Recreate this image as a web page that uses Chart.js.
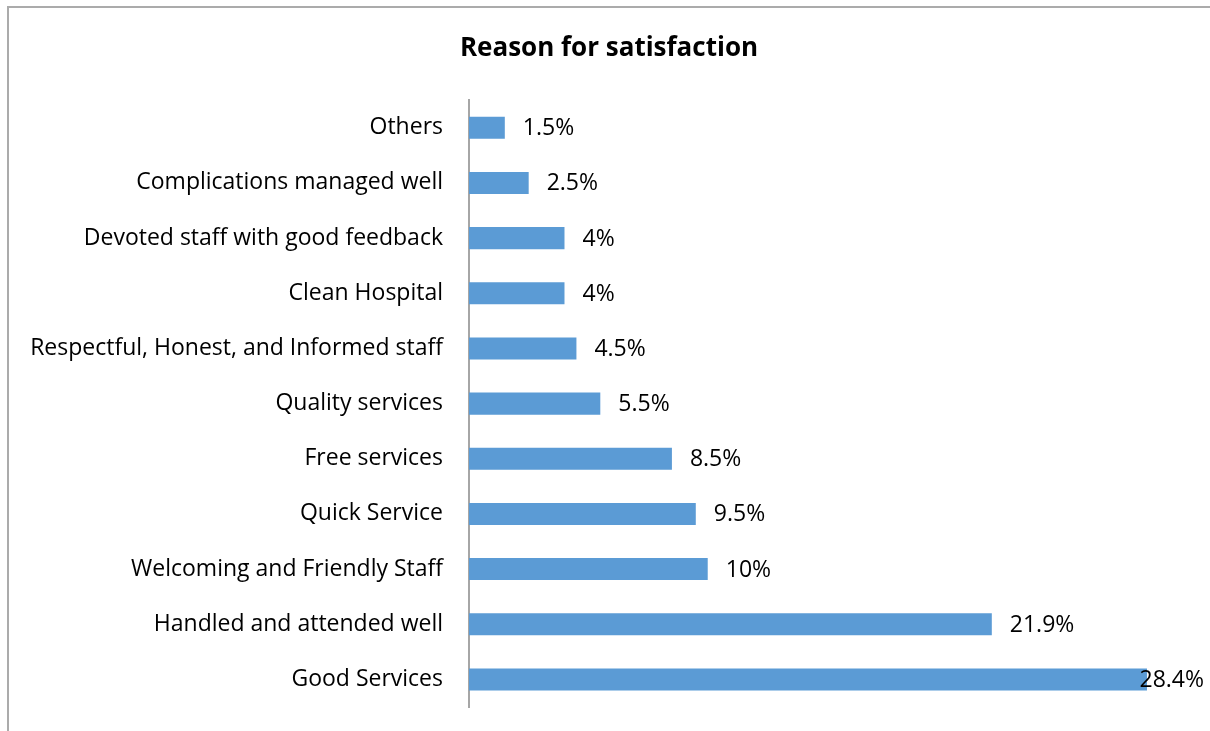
<!DOCTYPE html>
<html>
<head>
<meta charset="utf-8">
<script src="https://cdn.jsdelivr.net/npm/chart.js@4"></script>
<style>
  body { margin: 0; background: #fff; }
  #wrap { position: relative; width: 1210px; height: 731px; }
  #frame { position: absolute; left: 7px; top: 6px; right: 0; bottom: 0;
           border-top: 2px solid #ababab; border-left: 2px solid #ababab; }
  canvas { position: absolute; left: 0; top: 0; }
</style>
</head>
<body>
<div id="wrap">
  <div id="frame"></div>
  <canvas id="chart" width="1210" height="731"></canvas>
</div>
<script>
const categories = [
    'Others',
    'Complications managed well',
    'Devoted staff with good feedback',
    'Clean Hospital',
    'Respectful, Honest, and Informed staff',
    'Quality services',
    'Free services',
    'Quick Service',
    'Welcoming and Friendly Staff',
    'Handled and attended well',
    'Good Services'
];
const values = [1.5, 2.5, 4, 4, 4.5, 5.5, 8.5, 9.5, 10, 21.9, 28.4];
const valueLabels = ['1.5%', '2.5%', '4%', '4%', '4.5%', '5.5%', '8.5%', '9.5%', '10%', '21.9%', '28.4%'];

const FONT = '"Open Sans", "Liberation Sans", sans-serif';
const LABEL_SIZE = 23;

// draws the % labels just past the end of each bar
const barLabels = {
    id: 'barLabels',
    afterDatasetsDraw(chart) {
        const c = chart.ctx;
        const meta = chart.getDatasetMeta(0);
        c.save();
        c.font = LABEL_SIZE + 'px ' + FONT;
        c.fillStyle = '#000';
        c.textBaseline = 'middle';
        meta.data.forEach((bar, i) => {
            const txt = valueLabels[i];
            const w = c.measureText(txt).width;
            let x = bar.x + 18;
            if (x + w > 1204) x = 1204 - w; // keep inside the frame
            c.fillText(txt, x, bar.y + 1);
        });
        c.restore();
    }
};

const ctx = document.getElementById('chart').getContext('2d');
const chart = new Chart(ctx, {
    type: 'bar',
    data: {
        labels: categories,
        datasets: [{
            data: values,
            backgroundColor: '#5b9bd5',
            borderWidth: 0,
            categoryPercentage: 1,
            barPercentage: 0.4
        }]
    },
    options: {
        indexAxis: 'y',
        responsive: false,
        animation: false,
        layout: { padding: { left: 8, right: 0, bottom: 24, top: 0 } },
        scales: {
            x: { display: false, min: 0, max: 31.04 },
            y: {
                afterFit(scale) {
                    scale.width = 461;
                    scale.paddingTop = 0;
                    scale.paddingBottom = 0;
                },
                grid: { display: false, drawTicks: false },
                border: { display: true, color: '#a6a6a6', width: 2 },
                ticks: { color: '#000', padding: 26, font: { family: FONT, size: LABEL_SIZE } }
            }
        },
        plugins: {
            legend: { display: false },
            tooltip: { enabled: false },
            title: {
                display: true,
                text: 'Reason for satisfaction',
                color: '#000',
                font: { family: FONT, size: 26, weight: 'bold', lineHeight: 1.2 },
                padding: { top: 33, bottom: 36 }
            }
        }
    },
    plugins: [barLabels]
});
</script>
</body>
</html>
